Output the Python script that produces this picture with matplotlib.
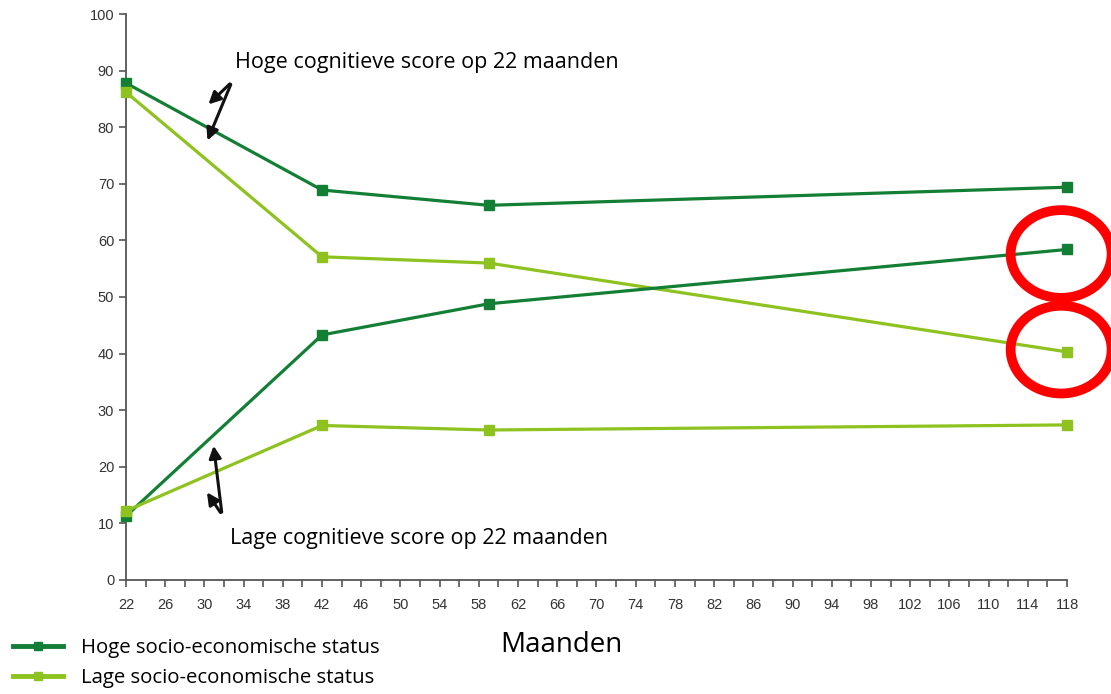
import matplotlib.pyplot as plt
from matplotlib.patches import Ellipse
from matplotlib.lines import Line2D

maanden = [22, 42, 59, 118]
hoog_ses_hoog_cog = [87.8, 68.9, 66.2, 69.4]
laag_ses_hoog_cog = [86.2, 57.1, 56.0, 40.3]
hoog_ses_laag_cog = [11.3, 43.3, 48.8, 58.4]
laag_ses_laag_cog = [12.2, 27.3, 26.5, 27.4]

donker = '#137f35'
licht = '#8dc21f'

fig = plt.figure(figsize=(11.11, 6.94), dpi=100)
ax = fig.add_axes([0.1134, 0.1643, 0.8470, 0.8155])

for ys, c in [(hoog_ses_hoog_cog, donker), (laag_ses_hoog_cog, licht),
              (hoog_ses_laag_cog, donker), (laag_ses_laag_cog, licht)]:
    ax.plot(maanden, ys, color=c, lw=2.3, marker='s', ms=7, clip_on=False, zorder=3)

ax.set_xlim(22, 118)
ax.set_ylim(0, 100)
ax.set_xticks(range(22, 119, 4))
ax.set_xticks(range(22, 119, 2), minor=True)
ax.set_yticks(range(0, 101, 10))
for s in ['top', 'right']:
    ax.spines[s].set_visible(False)
for s in ['left', 'bottom']:
    ax.spines[s].set_color('#555555')
    ax.spines[s].set_linewidth(1.3)
ax.tick_params(which='both', colors='#555555', labelcolor='#333333', labelsize=10.5, length=5, width=1.2)
ax.tick_params(axis='x', pad=8)
for lbl in ax.get_xticklabels() + ax.get_yticklabels():
    lbl.set_fontfamily('Liberation Sans')

tf = {'family': 'Open Sans', 'color': 'black'}
ax.text(33.1, 91.5, 'Hoge cognitieve score op 22 maanden', fontsize=15.5, va='center', **tf)
ax.text(32.6, 7.4, 'Lage cognitieve score op 22 maanden', fontsize=15.5, va='center', **tf)

pijl = dict(arrowstyle='-|>', color='#111111', lw=2.2, mutation_scale=18)
ax.annotate('', xy=(30.2, 83.7), xytext=(32.8, 88.0), arrowprops=pijl)
ax.annotate('', xy=(30.2, 77.2), xytext=(32.8, 88.0), arrowprops=pijl)
ax.annotate('', xy=(30.9, 24.2), xytext=(31.8, 11.5), arrowprops=pijl)
ax.annotate('', xy=(30.1, 15.9), xytext=(31.8, 11.5), arrowprops=pijl)

for cy in [57.6, 40.7]:
    ax.add_patch(Ellipse((117.4, cy), 10.3, 15.5, fill=False, ec='red', lw=7, clip_on=False, zorder=4))

fig.text(0.45, 0.07, 'Maanden', fontsize=20, ha='left', va='center', **tf)

handles = [Line2D([], [], color=donker, lw=3.5, marker='s', ms=6),
           Line2D([], [], color=licht, lw=3.5, marker='s', ms=6)]
fig.legend(handles, ['Hoge socio-economische status', 'Lage socio-economische status'],
           loc='lower left', bbox_to_anchor=(-0.005, -0.018), frameon=False,
           prop={'family': 'Open Sans', 'size': 14.7}, handlelength=2.45,
           handletextpad=0.9, labelspacing=0.5)

fig.savefig('out.png', dpi=100)
